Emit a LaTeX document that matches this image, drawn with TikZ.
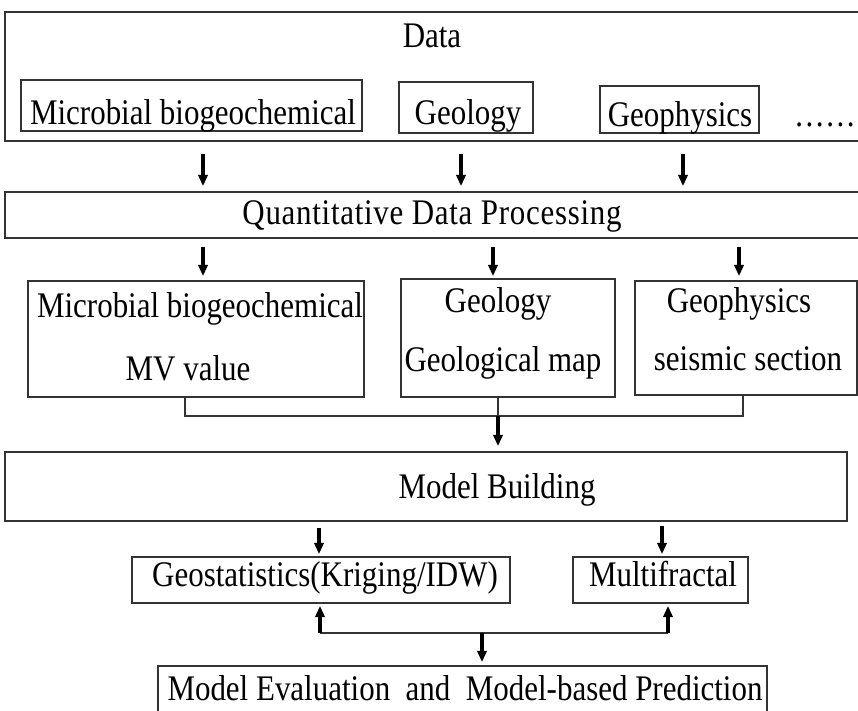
\documentclass[tikz,border=0pt]{standalone}
\usepackage{fontspec}
\setmainfont{Liberation Serif}[FakeStretch=0.86]
\usetikzlibrary{arrows.meta, calc, fit}
\tikzset{every node/.style={font=\fontsize{27pt}{31pt}\selectfont}}
\tikzset{
  box/.style={draw=boxcol, line width=1.3pt, inner sep=0pt},
  txt/.style={anchor=base, inner sep=0pt},
  flow/.style={-{Triangle[length=8.5pt, width=7pt]}, line width=2.6pt},
  link/.style={draw=boxcol, line width=1pt},
}

\begin{document}
\begin{tikzpicture}[x=0.75pt, y=-0.75pt, >=Stealth]
  % Fixed bounding box (pixel grid of the figure).
  \path[use as bounding box] (0,0) rectangle (858,711);

  \colorlet{boxcol}{black!80}

  % Data block.
  \node[box, fit={(5,12) (875,141)}] (data) {};
  \node[txt] (datalbl) at (432,47) {Data};
  \node[box, fit={(21,80) (362,131)}] (srcmic) {};
  \node[box, fit={(399,82) (533,133)}] (srcgeo) {};
  \node[box, fit={(600,86) (759,133)}] (srcgph) {};
  \node[txt] (srcmiclbl) at (193,124) {Microbial biogeochemical};
  \node[txt] (srcgeolbl) at (468,124) {Geology};
  \node[txt] (srcgphlbl) at (680,126) {Geophysics};
  \node[txt] (dots) at (825,126) {\addfontfeature{LetterSpace=7}......};

  % Processing.
  \node[box, fit={(5,192) (875,238)}] (qdp) {};
  \node[txt] (qdplbl) at (432,224) {\addfontfeature{LetterSpace=2}Quantitative Data Processing};

  \draw[flow, shorten <=9pt, shorten >=3.75pt] (203,0 |- data.south) -- (203,0 |- qdp.north);
  \draw[flow, shorten <=9pt, shorten >=3.75pt] (461,0 |- data.south) -- (461,0 |- qdp.north);
  \draw[flow, shorten <=9pt, shorten >=3.75pt] (683,0 |- data.south) -- (683,0 |- qdp.north);

  % Processed data.
  \node[box, fit={(28,281) (364,397)}] (micbox) {};
  \node[box, fit={(401,279) (615,397)}] (geobox) {};
  \node[box, fit={(635,281) (857,395)}] (gphbox) {};
  \node[txt] (miclbla) at (200,317) {Microbial biogeochemical};
  \node[txt] (miclblb) at (188,380) {MV value};
  \node[txt] (geolbla) at (498,312) {Geology};
  \node[txt] (geolblb) at (503,371) {Geological map};
  \node[txt] (gphlbla) at (739,312) {Geophysics};
  \node[txt] (gphlblb) at (748,370) {seismic section};

  \draw[flow, shorten <=6pt, shorten >=3pt] (203,0 |- qdp.south) -- (203,0 |- micbox.north);
  \draw[flow, shorten <=6pt, shorten >=1.5pt] (493,0 |- qdp.south) -- (493,0 |- geobox.north);
  \draw[flow, shorten <=6pt, shorten >=3pt] (739,0 |- qdp.south) -- (739,0 |- gphbox.north);

  % Model building.
  \node[box, fit={(5,452) (847,521)}] (build) {};
  \node[txt] (buildlbl) at (497,498) {Model Building};

  \coordinate (join) at (498,416);
  \draw[link] (185,0 |- micbox.south) |- (join);
  \draw[link] (743,0 |- gphbox.south) |- (join);
  \draw[link] (join |- geobox.south) -- (join);
  \draw[flow, shorten >=3.75pt] (join) -- (join |- build.north);

  % Methods.
  \node[box, fit={(132,557) (510,603)}] (krig) {};
  \node[box, fit={(573,557) (748,603)}] (mfr) {};
  \node[txt] (kriglbl) at (325,586) {Geostatistics(Kriging/IDW)};
  \node[txt] (mfrlbl) at (663,586) {Multifractal};

  \draw[flow, shorten <=4.5pt, shorten >=1.5pt] (319,0 |- build.south) -- (319,0 |- krig.north);
  \draw[flow, shorten <=3pt, shorten >=1.5pt] (662,0 |- build.south) -- (662,0 |- mfr.north);

  % Evaluation.
  \node[box, fit={(158,666) (767,730)}] (pred) {};
  \node[txt] (predlbl) at (465,700) {Model Evaluation\ \ and\ \ Model-based Prediction};

  \coordinate (krigfoot) at (320,633);
  \coordinate (mfrfoot) at (668,633);
  \coordinate (split) at (482,633);
  \draw[link, line width=1.5pt] (krigfoot) -- (mfrfoot);
  \draw[flow, shorten >=1.5pt] (krigfoot) -- (krigfoot |- krig.south);
  \draw[flow, shorten >=1.5pt] (mfrfoot) -- (mfrfoot |- mfr.south);
  \draw[flow, shorten >=2.25pt] (split) -- (split |- pred.north);
\end{tikzpicture}
\end{document}
